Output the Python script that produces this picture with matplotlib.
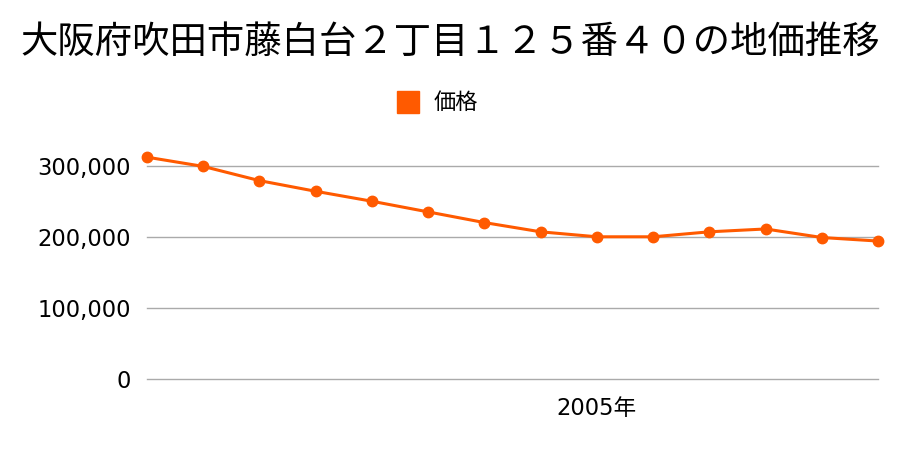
import matplotlib.pyplot as plt

# データ
years = list(range(1997, 2011))
prices = [312000, 299000, 279000, 264000, 250000, 235000, 220000,
          207000, 200000, 200000, 207000, 211000, 199000, 194000]
yticks = [0, 100000, 200000, 300000]
xtick_years = [2005]

title = "大阪府吹田市藤白台２丁目１２５番４０の地価推移"
series_name = "価格"
color = "#ff5a00"

fig = plt.figure(figsize=(9, 4.5), dpi=100)
ax = fig.add_axes([0.1633, 0.1578, 0.8123, 0.553])

ax.plot(years, prices, color=color, linewidth=2.2, marker="o",
        markersize=7.5, clip_on=False, zorder=3)

ax.set_xlim(years[0], years[-1])
ax.set_ylim(0, 350000)
ax.set_yticks(yticks)
ax.set_yticklabels([f"{v:,}" for v in yticks], fontsize=16.3, family="DejaVu Sans")
ax.set_xticks(xtick_years)
ax.set_xticklabels([f"{y}年" for y in xtick_years], fontsize=16.3,
                   family=["DejaVu Sans", "Noto Sans CJK JP"])
ax.tick_params(axis="both", length=0, pad=11.5)
ax.tick_params(axis="x", pad=13)
ax.grid(axis="y", color="#aaaaaa", linewidth=1)
for gl in ax.get_ygridlines():
    gl.set_clip_on(False)
ax.set_axisbelow(True)
for s in ax.spines.values():
    s.set_visible(False)

fig.text(0.5, 0.907, title, ha="center", va="center", fontsize=26.9,
         family="Noto Sans CJK JP")

# 凡例
fig.patches.append(plt.Rectangle((397 / 900, 1 - 113 / 450), 22 / 900, 22 / 450,
                                 transform=fig.transFigure, color=color))
fig.text(434 / 900, 1 - 102 / 450, series_name, ha="left", va="center",
         fontsize=16, family="Noto Sans CJK JP")

fig.savefig("out.png", dpi=100)
